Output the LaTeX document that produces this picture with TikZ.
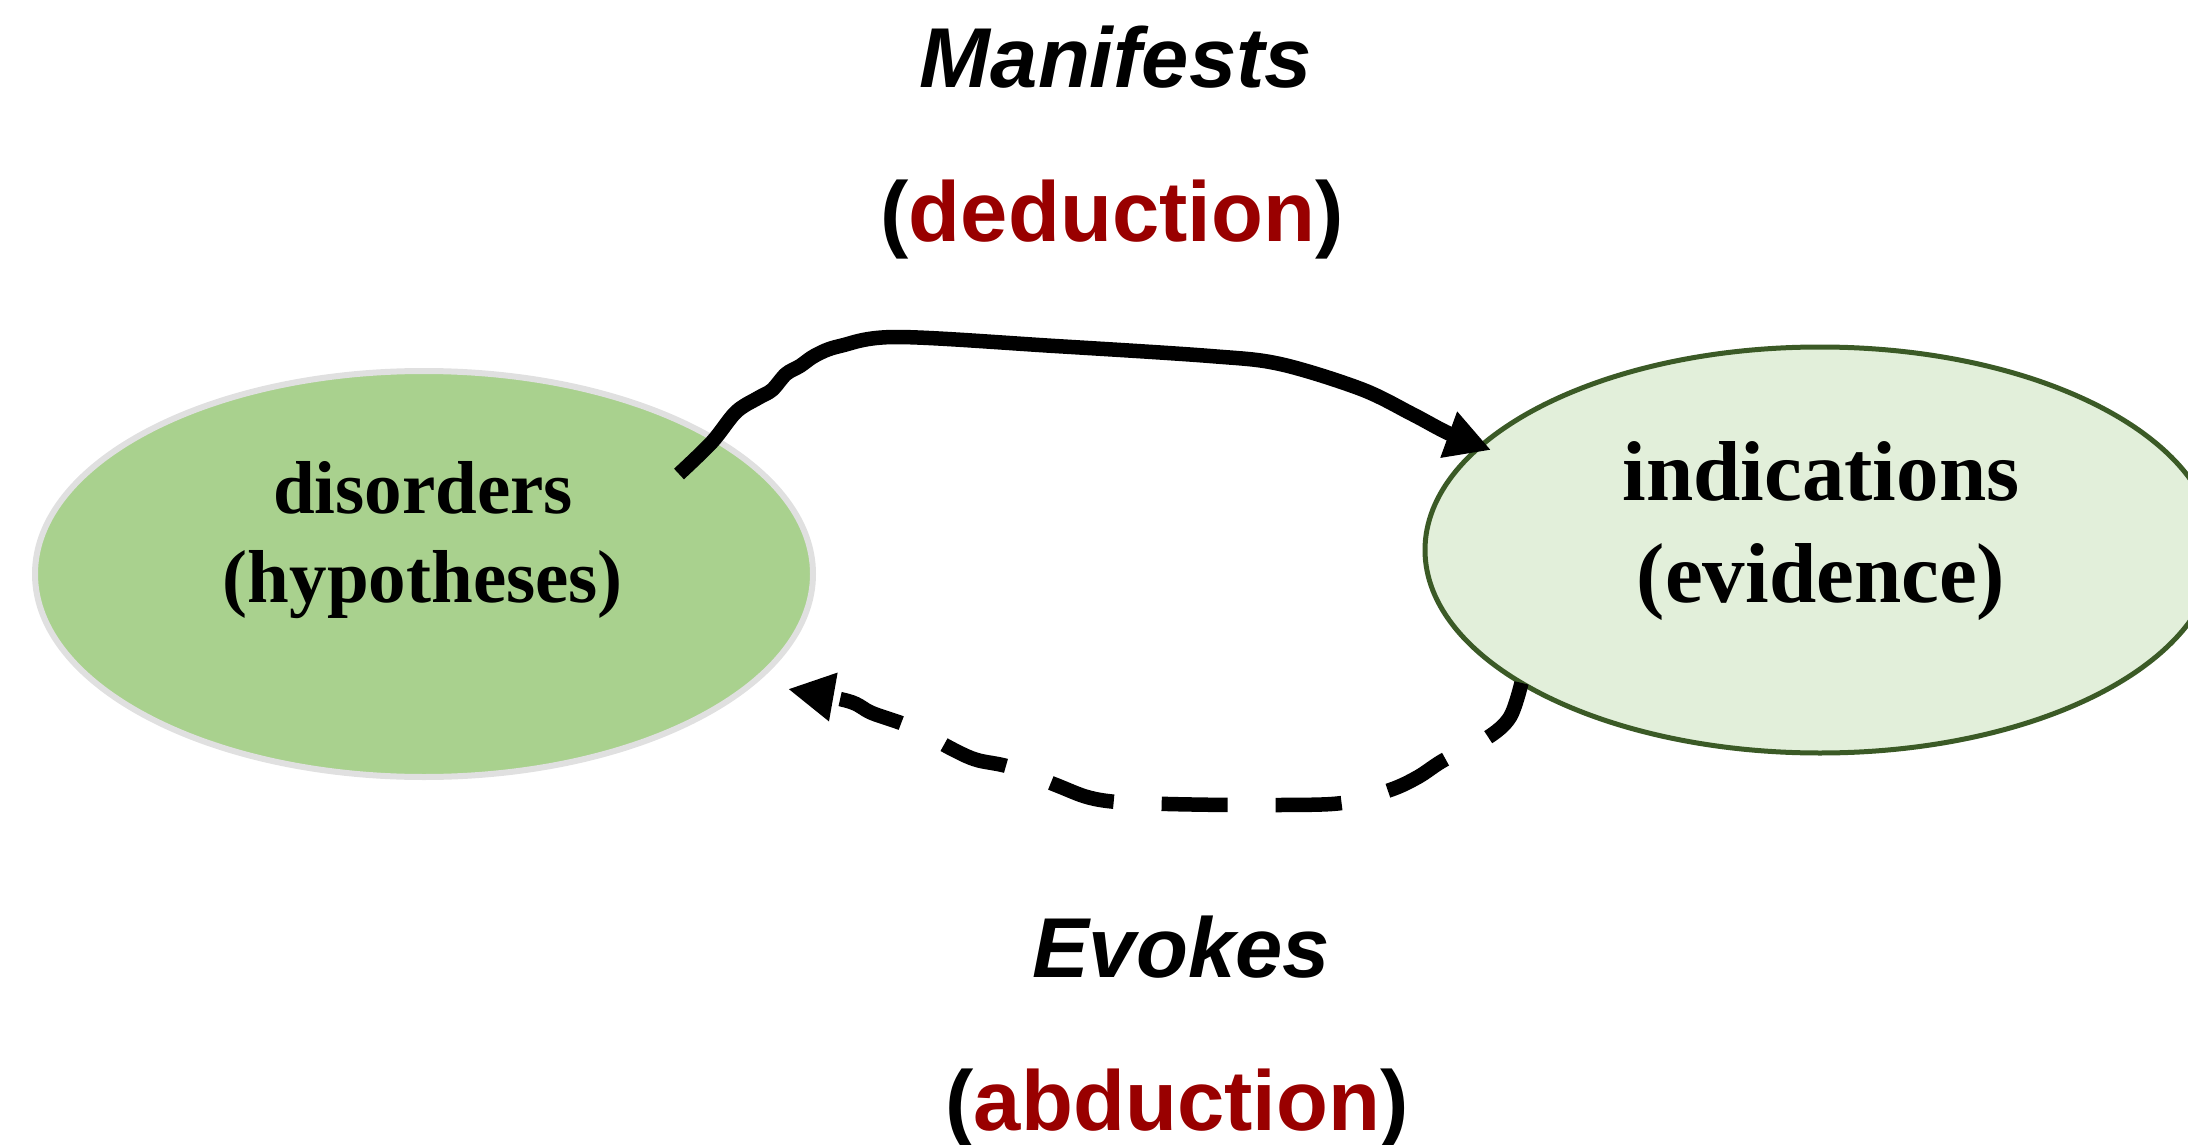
\documentclass[tikz,border=0pt]{standalone}
\usepackage{fontspec}
\setmainfont{Liberation Serif}
\setsansfont{Liberation Sans}
\usetikzlibrary{shapes.geometric,arrows.meta}
\definecolor{hypofill}{HTML}{A9D18E}
\definecolor{hypoedge}{HTML}{E0E0E0}
\definecolor{evidfill}{HTML}{E2EFDA}
\definecolor{evidedge}{HTML}{3B5A26}
\definecolor{infer}{HTML}{990000}

\begin{document}
\begin{tikzpicture}[x=1pt,y=-1pt,
  blob/.style={ellipse, inner sep=0pt, outer sep=0pt},
  hypotext/.style={anchor=base, font=\bfseries\fontsize{75}{90}\selectfont},
  evidtext/.style={anchor=base, font=\bfseries\fontsize{85}{102}\selectfont},
  reltext/.style={anchor=base, font=\sffamily\bfseries\fontsize{85}{102}\selectfont},
  flow/.style={line width=14.5pt, line join=round},
  tipA/.style={-{Triangle[length=45pt,width=46pt]}},
  tipB/.style={-{Triangle[length=46pt,width=46pt]}},
]
\useasboundingbox (0,0) rectangle (2188,1145);

% the two states
\node[blob, fill=hypofill, draw=hypoedge, line width=6pt,
      minimum width=778pt, minimum height=406pt] (hyp) at (424,574) {};
\node[blob, fill=evidfill, draw=evidedge, line width=5pt,
      minimum width=790pt, minimum height=406pt] (evid) at (1820,550) {};

\node[hypotext] (hypA) at (423,513) {disorders};
\node[hypotext] (hypB) at (423,602) {(hypotheses)};
\node[evidtext] (evidA) at (1821,500) {indications};
\node[evidtext] (evidB) at (1821,602) {(evidence)};

% relation labels
\node[reltext] (manA) at (1116,88) {\itshape Manifests};
\node[reltext] (manB) at (1112,241) {(\textcolor{infer}{deduction})};
\node[reltext] (evoA) at (1181,977) {\itshape Evokes};
\node[reltext] (evoB) at (1177,1130) {(\textcolor{infer}{abduction})};

% end points of the connectors
\coordinate (mstart) at (679,474);
\coordinate (mtip) at (1491,450);
\coordinate (etip) at (788,689);

% deduction: disorders -> indications
\draw[flow, tipA] plot[smooth, tension=0.55] coordinates {
  (mstart) (712,442) (736,412) (758,398) (772,390) (786,374)
  (800,366) (816,355) (840,346) (897,337) (1055,346) (1210,356)
  (1280,364) (1361,389) (1412,414) (1450,434) (mtip)};

% abduction: indications -> disorders
\draw[flow, tipB, dash pattern=on 66pt off 48pt] plot[smooth, tension=0.55] coordinates {
  (evid.204) (1510,717) (1487,738) (1444,760) (1418,777) (1390,790)
  (1342,803) (1281,805) (1230,805) (1168,804) (1117,802) (1087,797)
  (1056,785) (1010,767) (977,760) (954,750) (911,727) (872,713)
  (848,701) (etip)};
\end{tikzpicture}
\end{document}
